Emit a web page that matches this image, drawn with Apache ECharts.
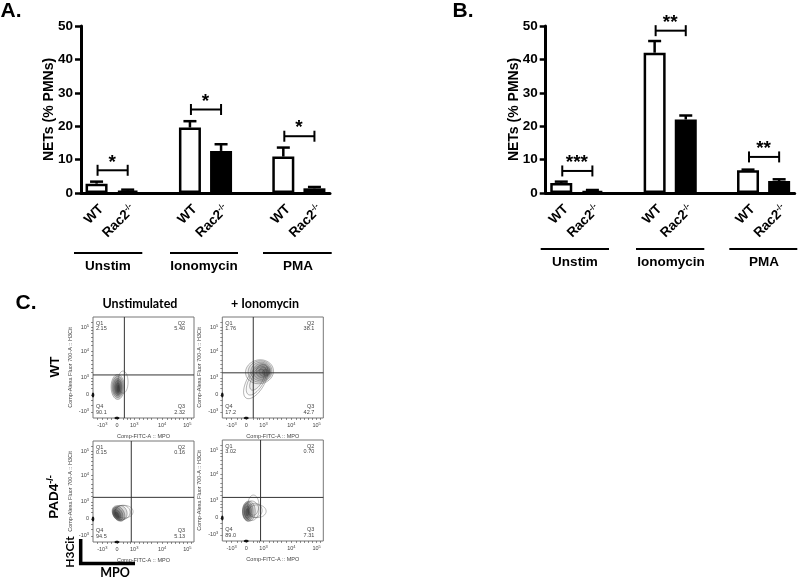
<!DOCTYPE html>
<html><head><meta charset="utf-8">
<style>html,body{margin:0;padding:0;background:#fff}#c{width:800px;height:580px}</style>
<script src="https://cdn.jsdelivr.net/npm/echarts@6/dist/echarts.min.js"></script>
</head><body><div id="c"></div>
<script>
var categories = ['WT','Rac2','','WT','Rac2','','WT','Rac2'];
var yTicksMax = 50;
var meansA = [2.8,0.7,null,19.6,12.6,null,10.9,1.4];
var errsA  = [0.6,0.3,null,1.9,2.0,null,2.7,0.4];
var meansB = [3.0,0.6,null,42,22,null,6.8,3.6];
var errsB  = [0.4,0.3,null,3.5,1.2,null,0.2,0.5];
var bracketsA = [[0,1,6.8,'*'],[3,4,25,'*'],[6,7,17,'*']];
var bracketsB = [[0,1,6.6,'***'],[3,4,48.6,'**'],[6,7,10.8,'**']];
var groupNames = ['Unstim','Ionomycin','PMA'];

var flowTitles = ['Unstimulated','+ Ionomycin'];
var gates = [[0.28,0.75],[0.265,0.83],[0.54,0.81],[0.54,0.77]];
var quadrants = [
  ['2.15','5.40','90.1','2.32'],
  ['1.76','38.1','17.2','42.7'],
  ['0.15','0.16','94.5','5.13'],
  ['3.02','0.70','89.0','7.31']];
var xTickPos = [-0.55,0,0.65,1.7,2.65];
var yTickPos = [-0.64,0,0.64,1.65,2.55];
var tickText = ['-10|3','0','10|3','10|4','10|5'];
var xMinor = [-0.75,-0.35,-0.2,0.25,0.4,0.5,0.85,1.0,1.15,1.3,1.5,1.9,2.05,2.2,2.35,2.5,2.8];
var yMinor = [-0.4,-0.2,0.25,0.4,0.5,0.85,1.0,1.15,1.3,1.5,1.85,2.0,2.15,2.3,2.45,2.75];
// cx, cy, rx, ry, rotation (deg), fill alpha
var contoursP1 = [[0.23,0.48,0.19,0.42,0,0],[0.03,0.30,0.25,0.47,0,0.18],[0.03,0.30,0.21,0.40,0,0.22],[0.03,0.29,0.17,0.33,0,0.25],[0.04,0.28,0.13,0.27,0,0.3],[0.04,0.26,0.09,0.2,0,0.35],[0.05,0.24,0.05,0.13,0,0.5]];
var contoursP2 = [[0.36,0.50,0.72,0.33,60,0],[0.38,0.53,0.6,0.27,60,0.04],[0.41,0.57,0.44,0.2,60,0.05],[0.5,0.87,0.53,0.45,10,0.07],[0.52,0.88,0.45,0.40,10,0.08],[0.55,0.88,0.38,0.35,5,0.1],[0.58,0.88,0.32,0.3,0,0.12],[0.63,0.88,0.26,0.24,0,0.14],[0.68,0.87,0.2,0.18,0,0.2],[0.73,0.85,0.12,0.12,0,0.3]];
var contoursP3 = [[0.27,0.27,0.34,0.24,0,0],[0.2,0.24,0.30,0.27,10,0.03],[0.12,0.22,0.26,0.29,20,0.14],[0.06,0.2,0.21,0.31,30,0.22],[0.03,0.19,0.17,0.26,30,0.28],[0.01,0.17,0.12,0.2,30,0.35],[0,0.15,0.07,0.13,30,0.5]];
var contoursP4 = [[0.27,0.48,0.21,0.38,0,0],[0.42,0.25,0.33,0.24,0,0],[0.33,0.28,0.27,0.27,0,0.03],[0.2,0.27,0.28,0.37,0,0.06],[0.1,0.25,0.24,0.38,0,0.14],[0.06,0.24,0.2,0.36,0,0.2],[0.04,0.23,0.16,0.31,0,0.25],[0.04,0.22,0.11,0.24,0,0.3],[0.04,0.21,0.06,0.14,0,0.4]];
var flowContours = [contoursP1,contoursP2,contoursP3,contoursP4];
var eventMarks = [[0,-0.87],[-0.9,0]];

var panelsFlow = [[93,317],[222.3,317],[93,441],[222.3,440]];
var flowSize = 101;
var sans = '"Liberation Sans",Arial,sans-serif';
var lato = 'Lato,sans-serif';

function barXAxis(i){return {gridIndex:i,type:'category',data:categories,
  axisLine:{lineStyle:{color:'#000',width:3}},
  axisTick:{alignWithLabel:true,length:6,lineStyle:{color:'#000',width:2.5},interval:function(idx,v){return v!=='';}},
  axisLabel:{interval:0,rotate:45,margin:9,verticalAlign:'top',color:'#000',fontFamily:sans,fontWeight:'bold',fontSize:13.5,
    formatter:function(v){return v==='Rac2'?'{a|Rac2}{s|-/-}':v;},
    rich:{a:{fontFamily:sans,fontWeight:'bold',fontSize:13.5,color:'#000'},s:{fontFamily:sans,fontWeight:'bold',fontSize:8,color:'#000',padding:[0,0,7,0]}}}};}
function barYAxis(i){return {gridIndex:i,type:'value',min:0,max:yTicksMax,interval:10,splitLine:{show:false},
  name:'NETs (% PMNs)',nameLocation:'middle',nameGap:25,nameMoveOverlap:false,nameTextStyle:{color:'#000',fontFamily:sans,fontWeight:'bold',fontSize:14},
  axisLine:{show:true,lineStyle:{color:'#000',width:3}},
  axisTick:{show:true,length:6,lineStyle:{color:'#000',width:2.5}},
  axisLabel:{margin:8,color:'#000',fontFamily:sans,fontWeight:'bold',fontSize:13.5}};}

function barSeries(i,means){return {type:'bar',xAxisIndex:i,yAxisIndex:i,barWidth:22,data:means,silent:true,
  itemStyle:{borderColor:'#000',borderWidth:2.5,color:function(p){return p.dataIndex%3===0?'#fff':'#000';}}};}
function errSeries(i,means,errs){return {type:'custom',xAxisIndex:i,yAxisIndex:i,silent:true,z:1,
  data:means.map(function(m,k){return [k,m,errs[k]];}).filter(function(d){return d[1]!=null;}),
  renderItem:function(p,api){
    var x=api.value(0),m=api.value(1),e=api.value(2);
    var a=api.coord([x,m]),b=api.coord([x,m+e]);
    var st={stroke:'#000',lineWidth:2.5,fill:null};
    return {type:'group',children:[
      {type:'line',shape:{x1:a[0],y1:a[1],x2:b[0],y2:b[1]},style:st},
      {type:'line',shape:{x1:b[0]-6.5,y1:b[1],x2:b[0]+6.5,y2:b[1]},style:st}]};
  }};}
function brSeries(i,br){return {type:'custom',xAxisIndex:i,yAxisIndex:i,silent:true,clip:false,z:5,
  data:br.map(function(d){return [d[0],d[1],d[2]];}),
  renderItem:function(p,api){
    var a=api.coord([api.value(0),api.value(2)]),b=api.coord([api.value(1),api.value(2)]);
    var st={stroke:'#000',lineWidth:2,fill:null};
    return {type:'group',children:[
      {type:'line',shape:{x1:a[0]+1,y1:a[1],x2:b[0],y2:b[1]},style:st},
      {type:'line',shape:{x1:a[0]+1,y1:a[1]-5.5,x2:a[0]+1,y2:a[1]+5.5},style:st},
      {type:'line',shape:{x1:b[0],y1:b[1]-5.5,x2:b[0],y2:b[1]+5.5},style:st},
      {type:'text',style:{text:br[p.dataIndex][3],x:(a[0]+b[0])/2,y:a[1]-8,align:'center',verticalAlign:'middle',fill:'#000',font:'bold 19px '+sans}}]};
  }};}

var grids=[{left:81,top:26,width:249,height:167},{left:545.7,top:26,width:249,height:167}];
var xAxes=[barXAxis(0),barXAxis(1)],yAxes=[barYAxis(0),barYAxis(1)];
var series=[barSeries(0,meansA),errSeries(0,meansA,errsA),brSeries(0,bracketsA),barSeries(1,meansB),errSeries(1,meansB,errsB),brSeries(1,bracketsB)];

var flowRich={a:{fontFamily:sans,fontSize:5.5,color:'#444'},s:{fontFamily:sans,fontSize:4,color:'#444',padding:[0,0,3,0]}};
function fmtTick(pos){return function(v){
  var k=pos.indexOf(v); if(k<0) return '';
  var t=tickText[k].split('|');
  return t.length>1?'{a|'+t[0]+'}{s|'+t[1]+'}':'{a|'+t[0]+'}';};}
panelsFlow.forEach(function(pn,n){
  var gi=n+2;
  grids.push({left:pn[0],top:pn[1],width:flowSize,height:flowSize,show:true,borderColor:'#777',borderWidth:1,backgroundColor:'#fff'});
  xAxes.push({gridIndex:gi,type:'value',min:-0.9,max:2.9,splitLine:{show:false},
    name:'Comp-FITC-A :: MPO',nameLocation:'middle',nameGap:15,nameMoveOverlap:false,nameTextStyle:{fontFamily:sans,fontSize:5.5,color:'#444'},
    axisLine:{show:false,onZero:false},axisTick:{show:true,length:2,lineStyle:{color:'#444',width:0.6},customValues:xTickPos.concat(xMinor)},
    axisLabel:{customValues:xTickPos,margin:4,formatter:fmtTick(xTickPos),rich:flowRich,fontSize:5.5,color:'#444'}});
  yAxes.push({gridIndex:gi,type:'value',min:-0.87,max:2.93,splitLine:{show:false},
    name:'Comp-Alexa Fluor 700-A :: H3Cit',nameLocation:'middle',nameGap:20,nameMoveOverlap:false,nameTextStyle:{fontFamily:sans,fontSize:5.5,color:'#444'},
    axisLine:{show:false,onZero:false},axisTick:{show:true,length:2,lineStyle:{color:'#444',width:0.6},customValues:yTickPos.concat(yMinor)},
    axisLabel:{customValues:yTickPos,margin:4,formatter:fmtTick(yTickPos),rich:flowRich,fontSize:5.5,color:'#444'}});
  series.push({type:'custom',xAxisIndex:gi,yAxisIndex:gi,silent:true,z:2,data:flowContours[n],
    renderItem:function(p,api){
      var c=api.coord([api.value(0),api.value(1)]),s=api.size([api.value(2),api.value(3)]);
      return {type:'ellipse',x:c[0],y:c[1],rotation:api.value(4)*Math.PI/180,
        shape:{cx:0,cy:0,rx:s[0],ry:s[1]},
        style:{fill:'rgba(45,45,45,'+api.value(5)+')',stroke:'rgba(70,70,70,0.6)',lineWidth:0.6}};
    }});
  series.push({type:'custom',xAxisIndex:gi,yAxisIndex:gi,silent:true,z:3,clip:false,data:eventMarks,
    renderItem:function(p,api){
      var c=api.coord([api.value(0),api.value(1)]);
      return {type:'ellipse',shape:{cx:c[0],cy:c[1],rx:api.value(1)<-0.5?2.5:1.3,ry:api.value(1)<-0.5?1.3:2.5},style:{fill:'#111'}};
    }});
  series.push({type:'custom',xAxisIndex:gi,yAxisIndex:gi,silent:true,z:4,data:[gates[n]],
    renderItem:function(p,api){
      var gx=api.value(0),gy=api.value(1);
      var v0=api.coord([gx,-0.87]),v1=api.coord([gx,2.93]),h0=api.coord([-0.9,gy]),h1=api.coord([2.9,gy]);
      var st={stroke:'#333',lineWidth:1,fill:null};
      return {type:'group',children:[
        {type:'line',shape:{x1:v0[0],y1:v0[1],x2:v1[0],y2:v1[1]},style:st},
        {type:'line',shape:{x1:h0[0],y1:h0[1],x2:h1[0],y2:h1[1]},style:st}]};
    }});
});

var g=[];
function txt(s,x,y,font,extra){var e={type:'text',x:x,y:y,z:20,silent:true,style:{text:s,font:font,fill:'#000',align:'center',verticalAlign:'middle'}};
  if(extra){for(var k in extra){e[k]=extra[k];}} g.push(e);}
function hline(x1,x2,y,w){g.push({type:'line',z:20,silent:true,shape:{x1:x1,y1:y,x2:x2,y2:y},style:{stroke:'#000',lineWidth:w}});}

txt('A.',11,11,'bold 21px '+sans);
txt('B.',463,11,'bold 21px '+sans);
txt('C.',26,303,'bold 21px '+sans);
[[74,142.3,108],[170,238,204],[263,331.7,298]].forEach(function(a,i){hline(a[0],a[1],253,2);txt(groupNames[i],a[2],266,'bold 13.5px '+sans);});
[[540.7,609,575],[636,704.3,671],[729.3,797.3,764]].forEach(function(a,i){hline(a[0],a[1],249,2);txt(groupNames[i],a[2],262.5,'bold 13.5px '+sans);});
txt(flowTitles[0],140,304,'bold 12.5px '+lato);
txt(flowTitles[1],265,304,'bold 12.5px '+lato);
txt('WT',55,367,'bold 13.5px '+sans,{rotation:Math.PI/2});
g.push({type:'text',x:54,y:497,z:20,silent:true,rotation:Math.PI/2,style:{text:'{a|PAD4}{s|-/-}',align:'center',verticalAlign:'middle',
  rich:{a:{font:'bold 13.5px '+sans,fill:'#000'},s:{font:'bold 9px '+sans,fill:'#000',padding:[0,0,6,0]}}}});
txt('H3Cit',70,552,'bold 12px '+lato,{rotation:Math.PI/2});
txt('MPO',115,573,'bold 12.5px '+lato);
g.push({type:'polyline',z:20,silent:true,shape:{points:[[80.7,539],[80.7,563.5],[135,563.5]]},style:{stroke:'#000',lineWidth:3.5,fill:null}});
panelsFlow.forEach(function(pn,n){
  var x0=pn[0]+3,x1=pn[0]+flowSize-9,y0=pn[1]+6,y1=pn[1]+flowSize-11.5,f='5.5px '+sans;
  function q(s,x,y,al){g.push({type:'text',x:x,y:y,z:21,silent:true,style:{text:s,font:f,fill:'#444',align:al,verticalAlign:'middle'}});}
  q('Q1',x0,y0,'left');q(quadrants[n][0],x0,y0+5.5,'left');
  q('Q2',x1,y0,'right');q(quadrants[n][1],x1,y0+5.5,'right');
  q('Q4',x0,y1,'left');q(quadrants[n][2],x0,y1+5.5,'left');
  q('Q3',x1,y1,'right');q(quadrants[n][3],x1,y1+5.5,'right');
});

var chart=echarts.init(document.getElementById('c'),null,{renderer:'canvas'});
chart.setOption({animation:false,backgroundColor:'#fff',grid:grids,xAxis:xAxes,yAxis:yAxes,series:series,graphic:{elements:g}});
</script></body></html>
